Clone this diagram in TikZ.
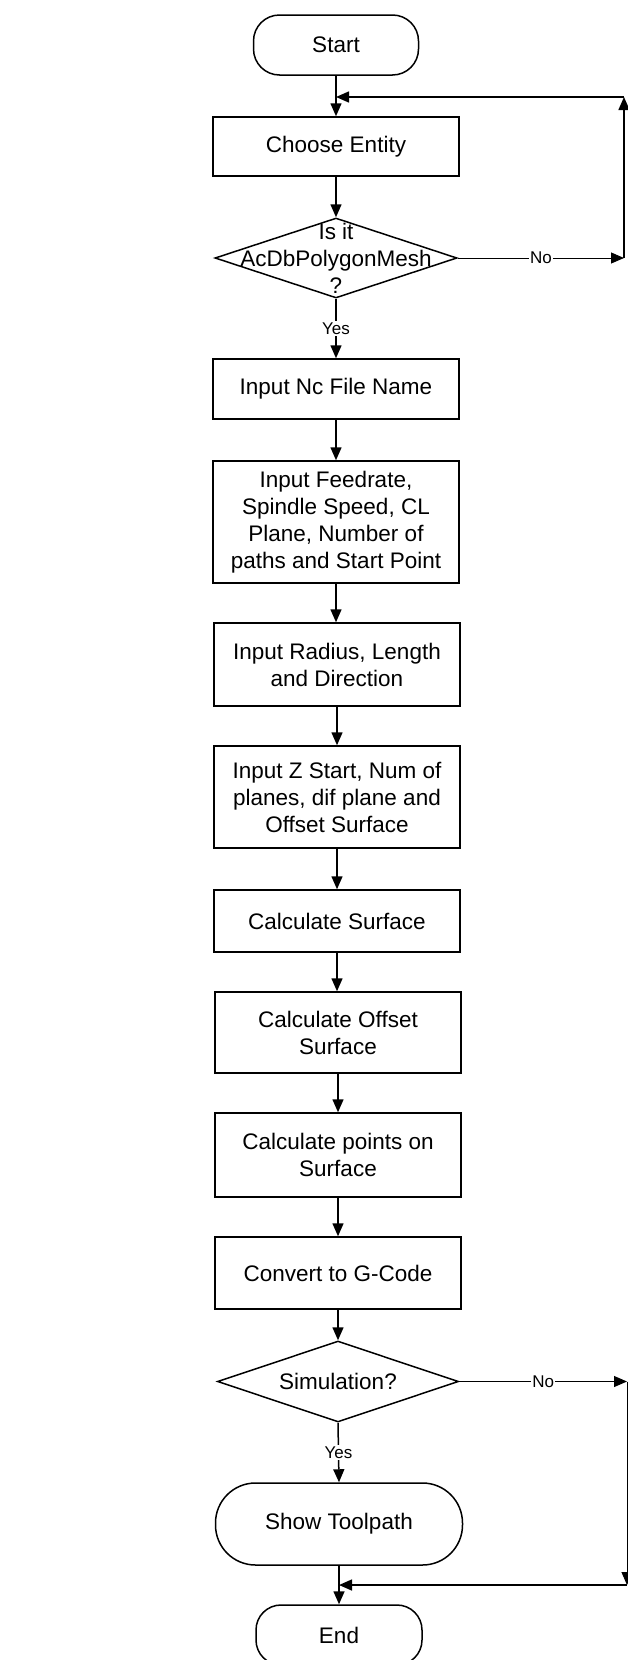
\documentclass[tikz,border=0pt]{standalone}
\usepackage{fontspec}
\setmainfont{Liberation Sans}
\usetikzlibrary{arrows.meta,shapes.geometric}
\begin{document}
\begin{tikzpicture}[x=1pt,y=-1pt,
  line width=1.5pt,
  >={Triangle[length=13pt,width=11pt]},
  txt/.style={font=\fontsize{22.5}{27}\selectfont, align=center},
  procbox/.style={draw, txt, minimum width=246pt, inner sep=0pt},
  termbox/.style={draw, txt, inner sep=0pt},
  decbox/.style={draw, diamond, inner sep=0pt, minimum width=242pt, minimum height=80pt},
  lbl/.style={font=\fontsize{17}{20}\selectfont, fill=white, inner sep=1.5pt}
]
\useasboundingbox (0,0) rectangle (628,1660);
\fill[white] (0,0) rectangle (628,1660);

\node[termbox, rounded corners=26pt, minimum width=165pt, minimum height=60pt] (start) at (336,45) {Start};
\node[procbox, minimum height=59pt] (choose) at (336,146.5) {Choose Entity};
\node[decbox] (d1) at (336,258) {};
\node[txt] (d1t) at (336,258) {Is it\\AcDbPolygonMesh\\?};
\node[procbox, minimum height=60pt] (ncfile) at (336,389) {Input Nc File Name};
\node[procbox, minimum height=122pt] (feed) at (336,522) {Input Feedrate,\\Spindle Speed, CL\\Plane, Number of\\paths and Start Point};
\node[procbox, minimum height=83pt] (radius) at (337,664.5) {Input Radius, Length\\and Direction};
\node[procbox, minimum height=102pt] (zstart) at (337,797) {Input Z Start, Num of\\planes, dif plane and\\Offset Surface};
\node[procbox, minimum height=62pt] (calcs) at (337,921) {Calculate Surface};
\node[procbox, minimum height=81pt] (calco) at (338,1032.5) {Calculate Offset\\Surface};
\node[procbox, minimum height=84pt] (calcp) at (338,1155) {Calculate points on\\Surface};
\node[procbox, minimum height=72pt] (conv) at (338,1273) {Convert to G-Code};
\node[decbox, minimum width=241pt, minimum height=81pt] (d2) at (338,1381.5) {};
\node[txt] (d2t) at (338,1381.5) {Simulation?};
\node[termbox, rounded corners=40pt, minimum width=247pt, minimum height=82pt] (show) at (339,1524) {Show Toolpath};
\node[termbox, rounded corners=25pt, minimum width=166pt, minimum height=60pt] (end) at (339,1635) {End};

\coordinate (j1) at (336,97);
\coordinate (r1a) at (624,258);
\coordinate (r1b) at (624,97);
\coordinate (j2) at (339,1585);
\coordinate (r2a) at (627,1381.5);
\coordinate (r2b) at (627,1585);

\draw[->] (start.south) -- (choose.north);
\draw[->] (choose.south) -- (d1.north);
\draw[->] (d1.south) -- node[lbl] {Yes} (ncfile.north);
\draw[->] (ncfile.south) -- (feed.north);
\draw[->] (feed.south) -- (feed.south |- radius.north);
\draw[->] (radius.south) -- (zstart.north);
\draw[->] (zstart.south) -- (calcs.north);
\draw[->] (calcs.south) -- (calcs.south |- calco.north);
\draw[->] (calco.south) -- (calcp.north);
\draw[->] (calcp.south) -- (conv.north);
\draw[->] (conv.south) -- (d2.north);
\draw[->] (d2.south) -- node[lbl] {Yes} (show.north);
\draw[->] (show.south) -- (end.north);

\draw[->, line width=1pt] (d1.east) -- node[lbl] {No} (r1a);
\draw[->] (r1a) -- (r1b);
\draw[->] (r1b) -- (j1);

\draw[->, line width=1pt] (d2.east) -- node[lbl] {No} (r2a);
\draw[->, line width=1pt] (r2a) -- (r2b);
\draw[->] (r2b) -- (j2);
\end{tikzpicture}
\end{document}
